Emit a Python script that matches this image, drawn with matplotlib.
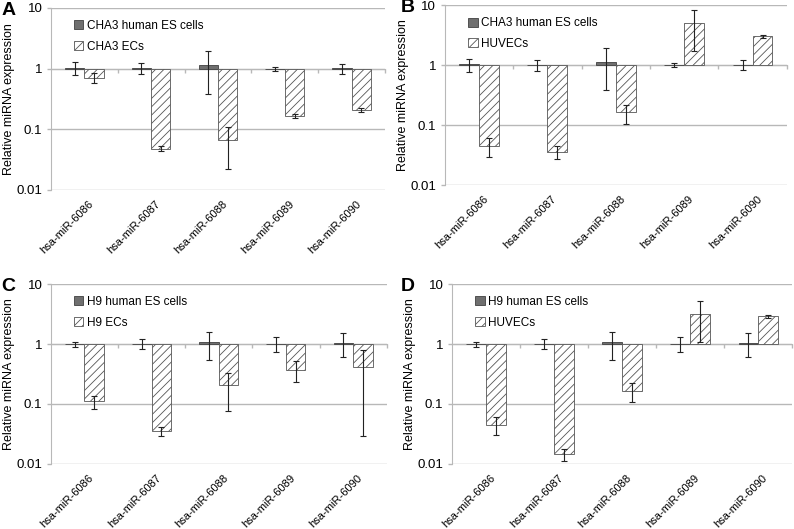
import matplotlib.pyplot as plt
from matplotlib.patches import Patch
from matplotlib.transforms import blended_transform_factory

plt.rcParams['font.family'] = ['Liberation Sans', 'DejaVu Sans']
plt.rcParams['hatch.linewidth'] = 0.6

mirnas = ['hsa-miR-6086', 'hsa-miR-6087', 'hsa-miR-6088', 'hsa-miR-6089', 'hsa-miR-6090']

# ES cell bars (reference group)
cha3_es = [1.03, 1.02, 1.15, 1.00, 1.02]
cha3_es_err = [0.25, 0.22, 0.77, 0.08, 0.19]
h9_es = [1.00, 1.02, 1.08, 1.02, 1.05]
h9_es_err = [0.10, 0.18, 0.53, 0.27, 0.45]

# differentiated / comparison cells
cha3_ec = [0.71, 0.048, 0.066, 0.164, 0.21]
cha3_ec_err = [0.13, 0.005, 0.044, 0.012, 0.014]
huvec_b = [0.045, 0.036, 0.163, 5.1, 3.02]
huvec_b_err = [0.015, 0.009, 0.058, 3.4, 0.22]
h9_ec = [0.111, 0.035, 0.205, 0.373, 0.419]
h9_ec_err = [0.027, 0.006, 0.13, 0.14, 0.39]
huvec_d = [0.045, 0.0145, 0.163, 3.12, 2.89]
huvec_d_err = [0.015, 0.0035, 0.057, 2.05, 0.2]

panels = [
    ('A', 0.0, [0.064, 0.641, 0.421, 0.344], 'CHA3 human ES cells', cha3_es, cha3_es_err, 'CHA3 ECs', cha3_ec, cha3_ec_err),
    ('B', 0.503, [0.560, 0.650, 0.431, 0.340], 'CHA3 human ES cells', cha3_es, cha3_es_err, 'HUVECs', huvec_b, huvec_b_err),
    ('C', 0.0, [0.064, 0.123, 0.423, 0.340], 'H9 human ES cells', h9_es, h9_es_err, 'H9 ECs', h9_ec, h9_ec_err),
    ('D', 0.503, [0.569, 0.123, 0.429, 0.340], 'H9 human ES cells', h9_es, h9_es_err, 'HUVECs', huvec_d, huvec_d_err),
]

es_color = '#6f6f6f'
edge = '#404040'
grid = '#b8b8b8'
w = 0.29

fig = plt.figure(figsize=(7.94, 5.29), dpi=100)

for letter, letter_x, rect, es_lab, es, es_err, ec_lab, ec, ec_err in panels:
    ax = fig.add_axes(rect)
    ax.set_yscale('log')
    ax.set_ylim(0.01, 10)
    ax.set_xlim(-0.5, len(mirnas) - 0.5)

    x = list(range(len(mirnas)))
    xe = [i - w / 2 for i in x]
    xc = [i + w / 2 for i in x]

    ax.bar(xe, [v - 1 for v in es], bottom=1, width=w, color=es_color,
           edgecolor=edge, linewidth=0.6, zorder=3)
    ax.bar(xc, [v - 1 for v in ec], bottom=1, width=w, color='white',
           edgecolor='#555555', hatch='////', linewidth=0.6, zorder=3)
    ax.errorbar(xe, es, yerr=es_err, fmt='none', ecolor='#222222',
                elinewidth=0.8, capsize=2.5, capthick=0.8, zorder=4)
    ax.errorbar(xc, ec, yerr=ec_err, fmt='none', ecolor='#222222',
                elinewidth=0.8, capsize=2.5, capthick=0.8, zorder=4)

    # gridlines at each decade
    for yv in [0.01, 0.1, 1, 10]:
        ax.axhline(yv, color=grid, linewidth=1.0, zorder=1)

    for s in ['top', 'right']:
        ax.spines[s].set_visible(False)
    ax.spines['left'].set_color(grid)
    ax.spines['bottom'].set_position(('data', 1))
    ax.spines['bottom'].set_color(grid)
    ax.spines['bottom'].set_zorder(2)

    ax.set_yticks([0.01, 0.1, 1, 10])
    ax.set_yticklabels(['0.01', '0.1', '1', '10'])
    ax.minorticks_off()
    ax.tick_params(axis='y', length=3, color=grid, width=1, labelsize=9.5, pad=3)

    ax.set_xticks([i + 0.5 for i in range(len(mirnas))])
    ax.set_xticklabels([])
    ax.tick_params(axis='x', length=3, direction='out', color=grid, width=1)

    tr = blended_transform_factory(ax.transData, ax.transAxes)
    for i, name in enumerate(mirnas):
        ax.text(i + 0.06, -0.05, name, transform=tr, rotation=45,
                rotation_mode='anchor', ha='right', va='top', fontsize=8)

    ax.set_ylabel('Relative miRNA expression', fontsize=9, labelpad=1)

    handles = [Patch(facecolor=es_color, edgecolor=edge, linewidth=0.6),
               Patch(facecolor='white', edgecolor='#555555', hatch='////', linewidth=0.6)]
    ax.legend(handles, [es_lab, ec_lab], loc='upper left', bbox_to_anchor=(0.055, 0.96),
              frameon=False, fontsize=8.5, handlelength=0.8, handleheight=0.8,
              handletextpad=0.3, labelspacing=0.75, borderaxespad=0)

    fig.text(letter_x + 0.002, rect[1] + rect[3] + 0.012, letter, fontsize=14,
             fontweight='bold', ha='left', va='top')

fig.savefig('out.png', dpi=100)
